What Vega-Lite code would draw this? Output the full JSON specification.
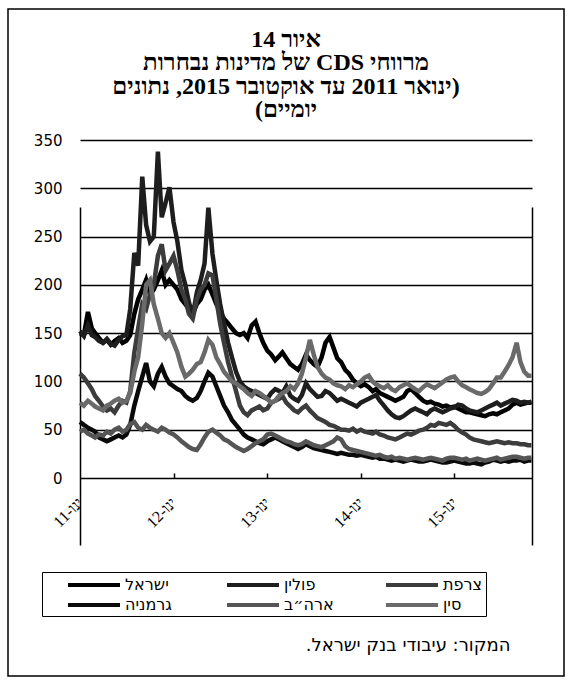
{
"$schema": "https://vega.github.io/schema/vega-lite/v6.json",
"width": 556, "height": 667,
"autosize": {"type": "none"},
"padding": {"left": 8, "top": 9, "right": 6, "bottom": 6},
"background": "white",
"title": {
 "text": ["\u202Bאיור 14\u202C", "\u202Bמרווחי CDS של מדינות נבחרות\u202C", "\u202B(ינואר 2011 עד  אוקטובר 2015, נתונים\u202C", "\u202Bיומיים)\u202C"],
 "anchor": "middle", "frame": "group", "orient": "top", "offset": -137, "baseline": "bottom",
 "font": "Liberation Serif", "fontSize": 24, "fontWeight": "bold", "color": "black", "lineHeight": 23.5
},
"data": {"values": [
{"date":"2011-01-01","country":"ישראל","cds":150},{"date":"2011-01-16","country":"ישראל","cds":148},{"date":"2011-02-01","country":"ישראל","cds":172},{"date":"2011-02-16","country":"ישראל","cds":155},{"date":"2011-03-01","country":"ישראל","cds":150},{"date":"2011-03-16","country":"ישראל","cds":145},{"date":"2011-04-01","country":"ישראל","cds":140},{"date":"2011-04-16","country":"ישראל","cds":143},{"date":"2011-05-01","country":"ישראל","cds":138},{"date":"2011-05-16","country":"ישראל","cds":142},{"date":"2011-06-01","country":"ישראל","cds":145},{"date":"2011-06-16","country":"ישראל","cds":140},{"date":"2011-07-01","country":"ישראל","cds":142},{"date":"2011-07-16","country":"ישראל","cds":148},{"date":"2011-08-01","country":"ישראל","cds":170},{"date":"2011-08-16","country":"ישראל","cds":185},{"date":"2011-09-01","country":"ישראל","cds":195},{"date":"2011-09-16","country":"ישראל","cds":205},{"date":"2011-10-01","country":"ישראל","cds":190},{"date":"2011-10-16","country":"ישראל","cds":195},{"date":"2011-11-01","country":"ישראל","cds":205},{"date":"2011-11-16","country":"ישראל","cds":215},{"date":"2011-12-01","country":"ישראל","cds":200},{"date":"2011-12-16","country":"ישראל","cds":205},
{"date":"2012-01-01","country":"ישראל","cds":200},{"date":"2012-01-16","country":"ישראל","cds":195},{"date":"2012-02-01","country":"ישראל","cds":185},{"date":"2012-02-16","country":"ישראל","cds":180},{"date":"2012-03-01","country":"ישראל","cds":175},{"date":"2012-03-16","country":"ישראל","cds":170},{"date":"2012-04-01","country":"ישראל","cds":180},{"date":"2012-04-16","country":"ישראל","cds":185},{"date":"2012-05-01","country":"ישראל","cds":195},{"date":"2012-05-16","country":"ישראל","cds":200},{"date":"2012-06-01","country":"ישראל","cds":190},{"date":"2012-06-16","country":"ישראל","cds":180},{"date":"2012-07-01","country":"ישראל","cds":172},{"date":"2012-07-16","country":"ישראל","cds":165},{"date":"2012-08-01","country":"ישראל","cds":160},{"date":"2012-08-16","country":"ישראל","cds":155},{"date":"2012-09-01","country":"ישראל","cds":150},{"date":"2012-09-16","country":"ישראל","cds":148},{"date":"2012-10-01","country":"ישראל","cds":150},{"date":"2012-10-16","country":"ישראל","cds":145},{"date":"2012-11-01","country":"ישראל","cds":158},{"date":"2012-11-16","country":"ישראל","cds":162},{"date":"2012-12-01","country":"ישראל","cds":150},{"date":"2012-12-16","country":"ישראל","cds":140},
{"date":"2013-01-01","country":"ישראל","cds":132},{"date":"2013-01-16","country":"ישראל","cds":128},{"date":"2013-02-01","country":"ישראל","cds":122},{"date":"2013-02-16","country":"ישראל","cds":126},{"date":"2013-03-01","country":"ישראל","cds":130},{"date":"2013-03-16","country":"ישראל","cds":124},{"date":"2013-04-01","country":"ישראל","cds":118},{"date":"2013-04-16","country":"ישראל","cds":115},{"date":"2013-05-01","country":"ישראל","cds":112},{"date":"2013-05-16","country":"ישראל","cds":118},{"date":"2013-06-01","country":"ישראל","cds":128},{"date":"2013-06-16","country":"ישראל","cds":122},{"date":"2013-07-01","country":"ישראל","cds":118},{"date":"2013-07-16","country":"ישראל","cds":115},{"date":"2013-08-01","country":"ישראל","cds":125},{"date":"2013-08-16","country":"ישראל","cds":140},{"date":"2013-09-01","country":"ישראל","cds":146},{"date":"2013-09-16","country":"ישראל","cds":135},{"date":"2013-10-01","country":"ישראל","cds":124},{"date":"2013-10-16","country":"ישראל","cds":120},{"date":"2013-11-01","country":"ישראל","cds":112},{"date":"2013-11-16","country":"ישראל","cds":108},{"date":"2013-12-01","country":"ישראל","cds":102},{"date":"2013-12-16","country":"ישראל","cds":98},
{"date":"2014-01-01","country":"ישראל","cds":95},{"date":"2014-01-16","country":"ישראל","cds":97},{"date":"2014-02-01","country":"ישראל","cds":94},{"date":"2014-02-16","country":"ישראל","cds":90},{"date":"2014-03-01","country":"ישראל","cds":92},{"date":"2014-03-16","country":"ישראל","cds":88},{"date":"2014-04-01","country":"ישראל","cds":86},{"date":"2014-04-16","country":"ישראל","cds":84},{"date":"2014-05-01","country":"ישראל","cds":82},{"date":"2014-05-16","country":"ישראל","cds":80},{"date":"2014-06-01","country":"ישראל","cds":82},{"date":"2014-06-16","country":"ישראל","cds":84},{"date":"2014-07-01","country":"ישראל","cds":90},{"date":"2014-07-16","country":"ישראל","cds":92},{"date":"2014-08-01","country":"ישראל","cds":88},{"date":"2014-08-16","country":"ישראל","cds":84},{"date":"2014-09-01","country":"ישראל","cds":80},{"date":"2014-09-16","country":"ישראל","cds":78},{"date":"2014-10-01","country":"ישראל","cds":79},{"date":"2014-10-16","country":"ישראל","cds":77},{"date":"2014-11-01","country":"ישראל","cds":76},{"date":"2014-11-16","country":"ישראל","cds":74},{"date":"2014-12-01","country":"ישראל","cds":75},{"date":"2014-12-16","country":"ישראל","cds":73},
{"date":"2015-01-01","country":"ישראל","cds":74},{"date":"2015-01-16","country":"ישראל","cds":72},{"date":"2015-02-01","country":"ישראל","cds":70},{"date":"2015-02-16","country":"ישראל","cds":68},{"date":"2015-03-01","country":"ישראל","cds":68},{"date":"2015-03-16","country":"ישראל","cds":67},{"date":"2015-04-01","country":"ישראל","cds":66},{"date":"2015-04-16","country":"ישראל","cds":65},{"date":"2015-05-01","country":"ישראל","cds":64},{"date":"2015-05-16","country":"ישראל","cds":66},{"date":"2015-06-01","country":"ישראל","cds":67},{"date":"2015-06-16","country":"ישראל","cds":66},{"date":"2015-07-01","country":"ישראל","cds":68},{"date":"2015-07-16","country":"ישראל","cds":70},{"date":"2015-08-01","country":"ישראל","cds":72},{"date":"2015-08-16","country":"ישראל","cds":76},{"date":"2015-09-01","country":"ישראל","cds":78},{"date":"2015-09-16","country":"ישראל","cds":76},{"date":"2015-10-01","country":"ישראל","cds":77},{"date":"2015-10-16","country":"ישראל","cds":78},{"date":"2015-10-29","country":"ישראל","cds":78},

{"date":"2011-01-01","country":"פולין","cds":152},{"date":"2011-01-16","country":"פולין","cds":147},{"date":"2011-02-01","country":"פולין","cds":158},{"date":"2011-02-16","country":"פולין","cds":148},{"date":"2011-03-01","country":"פולין","cds":146},{"date":"2011-03-16","country":"פולין","cds":142},{"date":"2011-04-01","country":"פולין","cds":140},{"date":"2011-04-16","country":"פולין","cds":144},{"date":"2011-05-01","country":"פולין","cds":139},{"date":"2011-05-16","country":"פולין","cds":137},{"date":"2011-06-01","country":"פולין","cds":143},{"date":"2011-06-16","country":"פולין","cds":147},{"date":"2011-07-01","country":"פולין","cds":148},{"date":"2011-07-16","country":"פולין","cds":175},{"date":"2011-08-01","country":"פולין","cds":233},{"date":"2011-08-16","country":"פולין","cds":220},{"date":"2011-09-01","country":"פולין","cds":312},{"date":"2011-09-16","country":"פולין","cds":262},{"date":"2011-10-01","country":"פולין","cds":245},{"date":"2011-10-16","country":"פולין","cds":250},{"date":"2011-11-01","country":"פולין","cds":338},{"date":"2011-11-16","country":"פולין","cds":270},{"date":"2011-12-01","country":"פולין","cds":285},{"date":"2011-12-16","country":"פולין","cds":301},
{"date":"2012-01-01","country":"פולין","cds":265},{"date":"2012-01-16","country":"פולין","cds":245},{"date":"2012-02-01","country":"פולין","cds":215},{"date":"2012-02-16","country":"פולין","cds":200},{"date":"2012-03-01","country":"פולין","cds":182},{"date":"2012-03-16","country":"פולין","cds":168},{"date":"2012-04-01","country":"פולין","cds":192},{"date":"2012-04-16","country":"פולין","cds":205},{"date":"2012-05-01","country":"פולין","cds":222},{"date":"2012-05-16","country":"פולין","cds":280},{"date":"2012-06-01","country":"פולין","cds":232},{"date":"2012-06-16","country":"פולין","cds":205},{"date":"2012-07-01","country":"פולין","cds":180},{"date":"2012-07-16","country":"פולין","cds":160},{"date":"2012-08-01","country":"פולין","cds":140},{"date":"2012-08-16","country":"פולין","cds":125},{"date":"2012-09-01","country":"פולין","cds":110},{"date":"2012-09-16","country":"פולין","cds":100},{"date":"2012-10-01","country":"פולין","cds":95},{"date":"2012-10-16","country":"פולין","cds":92},{"date":"2012-11-01","country":"פולין","cds":90},{"date":"2012-11-16","country":"פולין","cds":88},{"date":"2012-12-01","country":"פולין","cds":86},{"date":"2012-12-16","country":"פולין","cds":84},
{"date":"2013-01-01","country":"פולין","cds":82},{"date":"2013-01-16","country":"פולין","cds":88},{"date":"2013-02-01","country":"פולין","cds":92},{"date":"2013-02-16","country":"פולין","cds":90},{"date":"2013-03-01","country":"פולין","cds":88},{"date":"2013-03-16","country":"פולין","cds":95},{"date":"2013-04-01","country":"פולין","cds":85},{"date":"2013-04-16","country":"פולין","cds":82},{"date":"2013-05-01","country":"פולין","cds":80},{"date":"2013-05-16","country":"פולין","cds":86},{"date":"2013-06-01","country":"פולין","cds":98},{"date":"2013-06-16","country":"פולין","cds":92},{"date":"2013-07-01","country":"פולין","cds":88},{"date":"2013-07-16","country":"פולין","cds":84},{"date":"2013-08-01","country":"פולין","cds":85},{"date":"2013-08-16","country":"פולין","cds":90},{"date":"2013-09-01","country":"פולין","cds":88},{"date":"2013-09-16","country":"פולין","cds":84},{"date":"2013-10-01","country":"פולין","cds":80},{"date":"2013-10-16","country":"פולין","cds":82},{"date":"2013-11-01","country":"פולין","cds":80},{"date":"2013-11-16","country":"פולין","cds":78},{"date":"2013-12-01","country":"פולין","cds":76},{"date":"2013-12-16","country":"פולין","cds":74},
{"date":"2014-01-01","country":"פולין","cds":78},{"date":"2014-01-16","country":"פולין","cds":80},{"date":"2014-02-01","country":"פולין","cds":82},{"date":"2014-02-16","country":"פולין","cds":84},{"date":"2014-03-01","country":"פולין","cds":86},{"date":"2014-03-16","country":"פולין","cds":80},{"date":"2014-04-01","country":"פולין","cds":75},{"date":"2014-04-16","country":"פולין","cds":70},{"date":"2014-05-01","country":"פולין","cds":66},{"date":"2014-05-16","country":"פולין","cds":63},{"date":"2014-06-01","country":"פולין","cds":62},{"date":"2014-06-16","country":"פולין","cds":64},{"date":"2014-07-01","country":"פולין","cds":67},{"date":"2014-07-16","country":"פולין","cds":70},{"date":"2014-08-01","country":"פולין","cds":72},{"date":"2014-08-16","country":"פולין","cds":70},{"date":"2014-09-01","country":"פולין","cds":68},{"date":"2014-09-16","country":"פולין","cds":66},{"date":"2014-10-01","country":"פולין","cds":70},{"date":"2014-10-16","country":"פולין","cds":72},{"date":"2014-11-01","country":"פולין","cds":70},{"date":"2014-11-16","country":"פולין","cds":68},{"date":"2014-12-01","country":"פולין","cds":70},{"date":"2014-12-16","country":"פולין","cds":72},
{"date":"2015-01-01","country":"פולין","cds":73},{"date":"2015-01-16","country":"פולין","cds":76},{"date":"2015-02-01","country":"פולין","cds":75},{"date":"2015-02-16","country":"פולין","cds":72},{"date":"2015-03-01","country":"פולין","cds":70},{"date":"2015-03-16","country":"פולין","cds":69},{"date":"2015-04-01","country":"פולין","cds":68},{"date":"2015-04-16","country":"פולין","cds":70},{"date":"2015-05-01","country":"פולין","cds":72},{"date":"2015-05-16","country":"פולין","cds":74},{"date":"2015-06-01","country":"פולין","cds":76},{"date":"2015-06-16","country":"פולין","cds":78},{"date":"2015-07-01","country":"פולין","cds":75},{"date":"2015-07-16","country":"פולין","cds":77},{"date":"2015-08-01","country":"פולין","cds":79},{"date":"2015-08-16","country":"פולין","cds":81},{"date":"2015-09-01","country":"פולין","cds":80},{"date":"2015-09-16","country":"פולין","cds":78},{"date":"2015-10-01","country":"פולין","cds":79},{"date":"2015-10-16","country":"פולין","cds":78},{"date":"2015-10-29","country":"פולין","cds":79},

{"date":"2011-01-01","country":"צרפת","cds":108},{"date":"2011-01-16","country":"צרפת","cds":104},{"date":"2011-02-01","country":"צרפת","cds":98},{"date":"2011-02-16","country":"צרפת","cds":92},{"date":"2011-03-01","country":"צרפת","cds":85},{"date":"2011-03-16","country":"צרפת","cds":80},{"date":"2011-04-01","country":"צרפת","cds":74},{"date":"2011-04-16","country":"צרפת","cds":70},{"date":"2011-05-01","country":"צרפת","cds":72},{"date":"2011-05-16","country":"צרפת","cds":68},{"date":"2011-06-01","country":"צרפת","cds":75},{"date":"2011-06-16","country":"צרפת","cds":80},{"date":"2011-07-01","country":"צרפת","cds":78},{"date":"2011-07-16","country":"צרפת","cds":90},{"date":"2011-08-01","country":"צרפת","cds":130},{"date":"2011-08-16","country":"צרפת","cds":155},{"date":"2011-09-01","country":"צרפת","cds":180},{"date":"2011-09-16","country":"צרפת","cds":175},{"date":"2011-10-01","country":"צרפת","cds":190},{"date":"2011-10-16","country":"צרפת","cds":200},{"date":"2011-11-01","country":"צרפת","cds":230},{"date":"2011-11-16","country":"צרפת","cds":242},{"date":"2011-12-01","country":"צרפת","cds":215},{"date":"2011-12-16","country":"צרפת","cds":222},
{"date":"2012-01-01","country":"צרפת","cds":230},{"date":"2012-01-16","country":"צרפת","cds":215},{"date":"2012-02-01","country":"צרפת","cds":195},{"date":"2012-02-16","country":"צרפת","cds":185},{"date":"2012-03-01","country":"צרפת","cds":170},{"date":"2012-03-16","country":"צרפת","cds":165},{"date":"2012-04-01","country":"צרפת","cds":185},{"date":"2012-04-16","country":"צרפת","cds":195},{"date":"2012-05-01","country":"צרפת","cds":200},{"date":"2012-05-16","country":"צרפת","cds":212},{"date":"2012-06-01","country":"צרפת","cds":210},{"date":"2012-06-16","country":"צרפת","cds":185},{"date":"2012-07-01","country":"צרפת","cds":160},{"date":"2012-07-16","country":"צרפת","cds":140},{"date":"2012-08-01","country":"צרפת","cds":120},{"date":"2012-08-16","country":"צרפת","cds":105},{"date":"2012-09-01","country":"צרפת","cds":90},{"date":"2012-09-16","country":"צרפת","cds":75},{"date":"2012-10-01","country":"צרפת","cds":68},{"date":"2012-10-16","country":"צרפת","cds":65},{"date":"2012-11-01","country":"צרפת","cds":70},{"date":"2012-11-16","country":"צרפת","cds":72},{"date":"2012-12-01","country":"צרפת","cds":74},{"date":"2012-12-16","country":"צרפת","cds":70},
{"date":"2013-01-01","country":"צרפת","cds":72},{"date":"2013-01-16","country":"צרפת","cds":78},{"date":"2013-02-01","country":"צרפת","cds":80},{"date":"2013-02-16","country":"צרפת","cds":82},{"date":"2013-03-01","country":"צרפת","cds":85},{"date":"2013-03-16","country":"צרפת","cds":78},{"date":"2013-04-01","country":"צרפת","cds":74},{"date":"2013-04-16","country":"צרפת","cds":70},{"date":"2013-05-01","country":"צרפת","cds":68},{"date":"2013-05-16","country":"צרפת","cds":72},{"date":"2013-06-01","country":"צרפת","cds":75},{"date":"2013-06-16","country":"צרפת","cds":70},{"date":"2013-07-01","country":"צרפת","cds":66},{"date":"2013-07-16","country":"צרפת","cds":62},{"date":"2013-08-01","country":"צרפת","cds":60},{"date":"2013-08-16","country":"צרפת","cds":58},{"date":"2013-09-01","country":"צרפת","cds":55},{"date":"2013-09-16","country":"צרפת","cds":54},{"date":"2013-10-01","country":"צרפת","cds":52},{"date":"2013-10-16","country":"צרפת","cds":50},{"date":"2013-11-01","country":"צרפת","cds":50},{"date":"2013-11-16","country":"צרפת","cds":49},{"date":"2013-12-01","country":"צרפת","cds":51},{"date":"2013-12-16","country":"צרפת","cds":48},
{"date":"2014-01-01","country":"צרפת","cds":50},{"date":"2014-01-16","country":"צרפת","cds":48},{"date":"2014-02-01","country":"צרפת","cds":47},{"date":"2014-02-16","country":"צרפת","cds":46},{"date":"2014-03-01","country":"צרפת","cds":48},{"date":"2014-03-16","country":"צרפת","cds":45},{"date":"2014-04-01","country":"צרפת","cds":44},{"date":"2014-04-16","country":"צרפת","cds":42},{"date":"2014-05-01","country":"צרפת","cds":41},{"date":"2014-05-16","country":"צרפת","cds":40},{"date":"2014-06-01","country":"צרפת","cds":42},{"date":"2014-06-16","country":"צרפת","cds":44},{"date":"2014-07-01","country":"צרפת","cds":46},{"date":"2014-07-16","country":"צרפת","cds":45},{"date":"2014-08-01","country":"צרפת","cds":47},{"date":"2014-08-16","country":"צרפת","cds":49},{"date":"2014-09-01","country":"צרפת","cds":50},{"date":"2014-09-16","country":"צרפת","cds":52},{"date":"2014-10-01","country":"צרפת","cds":55},{"date":"2014-10-16","country":"צרפת","cds":54},{"date":"2014-11-01","country":"צרפת","cds":57},{"date":"2014-11-16","country":"צרפת","cds":56},{"date":"2014-12-01","country":"צרפת","cds":55},{"date":"2014-12-16","country":"צרפת","cds":57},
{"date":"2015-01-01","country":"צרפת","cds":54},{"date":"2015-01-16","country":"צרפת","cds":50},{"date":"2015-02-01","country":"צרפת","cds":47},{"date":"2015-02-16","country":"צרפת","cds":45},{"date":"2015-03-01","country":"צרפת","cds":42},{"date":"2015-03-16","country":"צרפת","cds":40},{"date":"2015-04-01","country":"צרפת","cds":39},{"date":"2015-04-16","country":"צרפת","cds":38},{"date":"2015-05-01","country":"צרפת","cds":37},{"date":"2015-05-16","country":"צרפת","cds":36},{"date":"2015-06-01","country":"צרפת","cds":37},{"date":"2015-06-16","country":"צרפת","cds":38},{"date":"2015-07-01","country":"צרפת","cds":37},{"date":"2015-07-16","country":"צרפת","cds":36},{"date":"2015-08-01","country":"צרפת","cds":37},{"date":"2015-08-16","country":"צרפת","cds":36},{"date":"2015-09-01","country":"צרפת","cds":36},{"date":"2015-09-16","country":"צרפת","cds":35},{"date":"2015-10-01","country":"צרפת","cds":35},{"date":"2015-10-16","country":"צרפת","cds":34},{"date":"2015-10-29","country":"צרפת","cds":34},

{"date":"2011-01-01","country":"גרמניה","cds":58},{"date":"2011-01-16","country":"גרמניה","cds":55},{"date":"2011-02-01","country":"גרמניה","cds":52},{"date":"2011-02-16","country":"גרמניה","cds":50},{"date":"2011-03-01","country":"גרמניה","cds":48},{"date":"2011-03-16","country":"גרמניה","cds":42},{"date":"2011-04-01","country":"גרמניה","cds":40},{"date":"2011-04-16","country":"גרמניה","cds":38},{"date":"2011-05-01","country":"גרמניה","cds":40},{"date":"2011-05-16","country":"גרמניה","cds":42},{"date":"2011-06-01","country":"גרמניה","cds":44},{"date":"2011-06-16","country":"גרמניה","cds":42},{"date":"2011-07-01","country":"גרמניה","cds":45},{"date":"2011-07-16","country":"גרמניה","cds":55},{"date":"2011-08-01","country":"גרמניה","cds":75},{"date":"2011-08-16","country":"גרמניה","cds":90},{"date":"2011-09-01","country":"גרמניה","cds":105},{"date":"2011-09-16","country":"גרמניה","cds":119},{"date":"2011-10-01","country":"גרמניה","cds":100},{"date":"2011-10-16","country":"גרמניה","cds":95},{"date":"2011-11-01","country":"גרמניה","cds":108},{"date":"2011-11-16","country":"גרמניה","cds":115},{"date":"2011-12-01","country":"גרמניה","cds":105},{"date":"2011-12-16","country":"גרמניה","cds":98},
{"date":"2012-01-01","country":"גרמניה","cds":95},{"date":"2012-01-16","country":"גרמניה","cds":92},{"date":"2012-02-01","country":"גרמניה","cds":90},{"date":"2012-02-16","country":"גרמניה","cds":85},{"date":"2012-03-01","country":"גרמניה","cds":82},{"date":"2012-03-16","country":"גרמניה","cds":80},{"date":"2012-04-01","country":"גרמניה","cds":83},{"date":"2012-04-16","country":"גרמניה","cds":90},{"date":"2012-05-01","country":"גרמניה","cds":100},{"date":"2012-05-16","country":"גרמניה","cds":109},{"date":"2012-06-01","country":"גרמניה","cds":105},{"date":"2012-06-16","country":"גרמניה","cds":95},{"date":"2012-07-01","country":"גרמניה","cds":85},{"date":"2012-07-16","country":"גרמניה","cds":75},{"date":"2012-08-01","country":"גרמניה","cds":68},{"date":"2012-08-16","country":"גרמניה","cds":60},{"date":"2012-09-01","country":"גרמניה","cds":55},{"date":"2012-09-16","country":"גרמניה","cds":50},{"date":"2012-10-01","country":"גרמניה","cds":45},{"date":"2012-10-16","country":"גרמניה","cds":42},{"date":"2012-11-01","country":"גרמניה","cds":40},{"date":"2012-11-16","country":"גרמניה","cds":38},{"date":"2012-12-01","country":"גרמניה","cds":36},{"date":"2012-12-16","country":"גרמניה","cds":35},
{"date":"2013-01-01","country":"גרמניה","cds":38},{"date":"2013-01-16","country":"גרמניה","cds":40},{"date":"2013-02-01","country":"גרמניה","cds":42},{"date":"2013-02-16","country":"גרמניה","cds":40},{"date":"2013-03-01","country":"גרמניה","cds":38},{"date":"2013-03-16","country":"גרמניה","cds":36},{"date":"2013-04-01","country":"גרמניה","cds":34},{"date":"2013-04-16","country":"גרמניה","cds":32},{"date":"2013-05-01","country":"גרמניה","cds":30},{"date":"2013-05-16","country":"גרמניה","cds":32},{"date":"2013-06-01","country":"גרמניה","cds":35},{"date":"2013-06-16","country":"גרמניה","cds":33},{"date":"2013-07-01","country":"גרמניה","cds":31},{"date":"2013-07-16","country":"גרמניה","cds":30},{"date":"2013-08-01","country":"גרמניה","cds":29},{"date":"2013-08-16","country":"גרמניה","cds":28},{"date":"2013-09-01","country":"גרמניה","cds":27},{"date":"2013-09-16","country":"גרמניה","cds":26},{"date":"2013-10-01","country":"גרמניה","cds":25},{"date":"2013-10-16","country":"גרמניה","cds":26},{"date":"2013-11-01","country":"גרמניה","cds":25},{"date":"2013-11-16","country":"גרמניה","cds":24},{"date":"2013-12-01","country":"גרמניה","cds":24},{"date":"2013-12-16","country":"גרמניה","cds":23},
{"date":"2014-01-01","country":"גרמניה","cds":24},{"date":"2014-01-16","country":"גרמניה","cds":23},{"date":"2014-02-01","country":"גרמניה","cds":22},{"date":"2014-02-16","country":"גרמניה","cds":21},{"date":"2014-03-01","country":"גרמניה","cds":22},{"date":"2014-03-16","country":"גרמניה","cds":20},{"date":"2014-04-01","country":"גרמניה","cds":20},{"date":"2014-04-16","country":"גרמניה","cds":19},{"date":"2014-05-01","country":"גרמניה","cds":18},{"date":"2014-05-16","country":"גרמניה","cds":19},{"date":"2014-06-01","country":"גרמניה","cds":18},{"date":"2014-06-16","country":"גרמניה","cds":17},{"date":"2014-07-01","country":"גרמניה","cds":18},{"date":"2014-07-16","country":"גרמניה","cds":19},{"date":"2014-08-01","country":"גרמניה","cds":18},{"date":"2014-08-16","country":"גרמניה","cds":17},{"date":"2014-09-01","country":"גרמניה","cds":17},{"date":"2014-09-16","country":"גרמניה","cds":18},{"date":"2014-10-01","country":"גרמניה","cds":19},{"date":"2014-10-16","country":"גרמניה","cds":18},{"date":"2014-11-01","country":"גרמניה","cds":17},{"date":"2014-11-16","country":"גרמניה","cds":16},{"date":"2014-12-01","country":"גרמניה","cds":16},{"date":"2014-12-16","country":"גרמניה","cds":17},
{"date":"2015-01-01","country":"גרמניה","cds":18},{"date":"2015-01-16","country":"גרמניה","cds":17},{"date":"2015-02-01","country":"גרמניה","cds":16},{"date":"2015-02-16","country":"גרמניה","cds":15},{"date":"2015-03-01","country":"גרמניה","cds":15},{"date":"2015-03-16","country":"גרמניה","cds":16},{"date":"2015-04-01","country":"גרמניה","cds":15},{"date":"2015-04-16","country":"גרמניה","cds":14},{"date":"2015-05-01","country":"גרמניה","cds":16},{"date":"2015-05-16","country":"גרמניה","cds":17},{"date":"2015-06-01","country":"גרמניה","cds":19},{"date":"2015-06-16","country":"גרמניה","cds":18},{"date":"2015-07-01","country":"גרמניה","cds":17},{"date":"2015-07-16","country":"גרמניה","cds":18},{"date":"2015-08-01","country":"גרמניה","cds":17},{"date":"2015-08-16","country":"גרמניה","cds":18},{"date":"2015-09-01","country":"גרמניה","cds":18},{"date":"2015-09-16","country":"גרמניה","cds":19},{"date":"2015-10-01","country":"גרמניה","cds":17},{"date":"2015-10-16","country":"גרמניה","cds":18},{"date":"2015-10-29","country":"גרמניה","cds":18},

{"date":"2011-01-01","country":"ארה״ב","cds":48},{"date":"2011-01-16","country":"ארה״ב","cds":50},{"date":"2011-02-01","country":"ארה״ב","cds":46},{"date":"2011-02-16","country":"ארה״ב","cds":44},{"date":"2011-03-01","country":"ארה״ב","cds":42},{"date":"2011-03-16","country":"ארה״ב","cds":45},{"date":"2011-04-01","country":"ארה״ב","cds":44},{"date":"2011-04-16","country":"ארה״ב","cds":48},{"date":"2011-05-01","country":"ארה״ב","cds":46},{"date":"2011-05-16","country":"ארה״ב","cds":50},{"date":"2011-06-01","country":"ארה״ב","cds":52},{"date":"2011-06-16","country":"ארה״ב","cds":48},{"date":"2011-07-01","country":"ארה״ב","cds":50},{"date":"2011-07-16","country":"ארה״ב","cds":56},{"date":"2011-08-01","country":"ארה״ב","cds":58},{"date":"2011-08-16","country":"ארה״ב","cds":52},{"date":"2011-09-01","country":"ארה״ב","cds":50},{"date":"2011-09-16","country":"ארה״ב","cds":55},{"date":"2011-10-01","country":"ארה״ב","cds":52},{"date":"2011-10-16","country":"ארה״ב","cds":50},{"date":"2011-11-01","country":"ארה״ב","cds":48},{"date":"2011-11-16","country":"ארה״ב","cds":52},{"date":"2011-12-01","country":"ארה״ב","cds":50},{"date":"2011-12-16","country":"ארה״ב","cds":47},
{"date":"2012-01-01","country":"ארה״ב","cds":45},{"date":"2012-01-16","country":"ארה״ב","cds":42},{"date":"2012-02-01","country":"ארה״ב","cds":38},{"date":"2012-02-16","country":"ארה״ב","cds":35},{"date":"2012-03-01","country":"ארה״ב","cds":32},{"date":"2012-03-16","country":"ארה״ב","cds":30},{"date":"2012-04-01","country":"ארה״ב","cds":29},{"date":"2012-04-16","country":"ארה״ב","cds":35},{"date":"2012-05-01","country":"ארה״ב","cds":42},{"date":"2012-05-16","country":"ארה״ב","cds":48},{"date":"2012-06-01","country":"ארה״ב","cds":50},{"date":"2012-06-16","country":"ארה״ב","cds":47},{"date":"2012-07-01","country":"ארה״ב","cds":44},{"date":"2012-07-16","country":"ארה״ב","cds":40},{"date":"2012-08-01","country":"ארה״ב","cds":38},{"date":"2012-08-16","country":"ארה״ב","cds":35},{"date":"2012-09-01","country":"ארה״ב","cds":32},{"date":"2012-09-16","country":"ארה״ב","cds":30},{"date":"2012-10-01","country":"ארה״ב","cds":28},{"date":"2012-10-16","country":"ארה״ב","cds":30},{"date":"2012-11-01","country":"ארה״ב","cds":33},{"date":"2012-11-16","country":"ארה״ב","cds":36},{"date":"2012-12-01","country":"ארה״ב","cds":38},{"date":"2012-12-16","country":"ארה״ב","cds":40},
{"date":"2013-01-01","country":"ארה״ב","cds":45},{"date":"2013-01-16","country":"ארה״ב","cds":46},{"date":"2013-02-01","country":"ארה״ב","cds":44},{"date":"2013-02-16","country":"ארה״ב","cds":42},{"date":"2013-03-01","country":"ארה״ב","cds":40},{"date":"2013-03-16","country":"ארה״ב","cds":38},{"date":"2013-04-01","country":"ארה״ב","cds":37},{"date":"2013-04-16","country":"ארה״ב","cds":35},{"date":"2013-05-01","country":"ארה״ב","cds":34},{"date":"2013-05-16","country":"ארה״ב","cds":35},{"date":"2013-06-01","country":"ארה״ב","cds":38},{"date":"2013-06-16","country":"ארה״ב","cds":36},{"date":"2013-07-01","country":"ארה״ב","cds":34},{"date":"2013-07-16","country":"ארה״ב","cds":33},{"date":"2013-08-01","country":"ארה״ב","cds":32},{"date":"2013-08-16","country":"ארה״ב","cds":34},{"date":"2013-09-01","country":"ארה״ב","cds":36},{"date":"2013-09-16","country":"ארה״ב","cds":38},{"date":"2013-10-01","country":"ארה״ב","cds":42},{"date":"2013-10-16","country":"ארה״ב","cds":40},{"date":"2013-11-01","country":"ארה״ב","cds":33},{"date":"2013-11-16","country":"ארה״ב","cds":30},{"date":"2013-12-01","country":"ארה״ב","cds":29},{"date":"2013-12-16","country":"ארה״ב","cds":28},
{"date":"2014-01-01","country":"ארה״ב","cds":27},{"date":"2014-01-16","country":"ארה״ב","cds":26},{"date":"2014-02-01","country":"ארה״ב","cds":25},{"date":"2014-02-16","country":"ארה״ב","cds":24},{"date":"2014-03-01","country":"ארה״ב","cds":23},{"date":"2014-03-16","country":"ארה״ב","cds":24},{"date":"2014-04-01","country":"ארה״ב","cds":22},{"date":"2014-04-16","country":"ארה״ב","cds":21},{"date":"2014-05-01","country":"ארה״ב","cds":22},{"date":"2014-05-16","country":"ארה״ב","cds":20},{"date":"2014-06-01","country":"ארה״ב","cds":21},{"date":"2014-06-16","country":"ארה״ב","cds":20},{"date":"2014-07-01","country":"ארה״ב","cds":19},{"date":"2014-07-16","country":"ארה״ב","cds":20},{"date":"2014-08-01","country":"ארה״ב","cds":21},{"date":"2014-08-16","country":"ארה״ב","cds":20},{"date":"2014-09-01","country":"ארה״ב","cds":19},{"date":"2014-09-16","country":"ארה״ב","cds":20},{"date":"2014-10-01","country":"ארה״ב","cds":21},{"date":"2014-10-16","country":"ארה״ב","cds":20},{"date":"2014-11-01","country":"ארה״ב","cds":19},{"date":"2014-11-16","country":"ארה״ב","cds":18},{"date":"2014-12-01","country":"ארה״ב","cds":20},{"date":"2014-12-16","country":"ארה״ב","cds":21},
{"date":"2015-01-01","country":"ארה״ב","cds":21},{"date":"2015-01-16","country":"ארה״ב","cds":20},{"date":"2015-02-01","country":"ארה״ב","cds":19},{"date":"2015-02-16","country":"ארה״ב","cds":20},{"date":"2015-03-01","country":"ארה״ב","cds":18},{"date":"2015-03-16","country":"ארה״ב","cds":19},{"date":"2015-04-01","country":"ארה״ב","cds":20},{"date":"2015-04-16","country":"ארה״ב","cds":19},{"date":"2015-05-01","country":"ארה״ב","cds":18},{"date":"2015-05-16","country":"ארה״ב","cds":19},{"date":"2015-06-01","country":"ארה״ב","cds":20},{"date":"2015-06-16","country":"ארה״ב","cds":21},{"date":"2015-07-01","country":"ארה״ב","cds":19},{"date":"2015-07-16","country":"ארה״ב","cds":20},{"date":"2015-08-01","country":"ארה״ב","cds":21},{"date":"2015-08-16","country":"ארה״ב","cds":22},{"date":"2015-09-01","country":"ארה״ב","cds":22},{"date":"2015-09-16","country":"ארה״ב","cds":21},{"date":"2015-10-01","country":"ארה״ב","cds":20},{"date":"2015-10-16","country":"ארה״ב","cds":21},{"date":"2015-10-29","country":"ארה״ב","cds":21},

{"date":"2011-01-01","country":"סין","cds":78},{"date":"2011-01-16","country":"סין","cds":75},{"date":"2011-02-01","country":"סין","cds":80},{"date":"2011-02-16","country":"סין","cds":77},{"date":"2011-03-01","country":"סין","cds":74},{"date":"2011-03-16","country":"סין","cds":72},{"date":"2011-04-01","country":"סין","cds":70},{"date":"2011-04-16","country":"סין","cds":75},{"date":"2011-05-01","country":"סין","cds":77},{"date":"2011-05-16","country":"סין","cds":80},{"date":"2011-06-01","country":"סין","cds":82},{"date":"2011-06-16","country":"סין","cds":78},{"date":"2011-07-01","country":"סין","cds":80},{"date":"2011-07-16","country":"סין","cds":88},{"date":"2011-08-01","country":"סין","cds":110},{"date":"2011-08-16","country":"סין","cds":125},{"date":"2011-09-01","country":"סין","cds":160},{"date":"2011-09-16","country":"סין","cds":200},{"date":"2011-10-01","country":"סין","cds":205},{"date":"2011-10-16","country":"סין","cds":180},{"date":"2011-11-01","country":"סין","cds":165},{"date":"2011-11-16","country":"סין","cds":150},{"date":"2011-12-01","country":"סין","cds":145},{"date":"2011-12-16","country":"סין","cds":150},
{"date":"2012-01-01","country":"סין","cds":140},{"date":"2012-01-16","country":"סין","cds":130},{"date":"2012-02-01","country":"סין","cds":115},{"date":"2012-02-16","country":"סין","cds":105},{"date":"2012-03-01","country":"סין","cds":108},{"date":"2012-03-16","country":"סין","cds":112},{"date":"2012-04-01","country":"סין","cds":118},{"date":"2012-04-16","country":"סין","cds":120},{"date":"2012-05-01","country":"סין","cds":130},{"date":"2012-05-16","country":"סין","cds":143},{"date":"2012-06-01","country":"סין","cds":138},{"date":"2012-06-16","country":"סין","cds":125},{"date":"2012-07-01","country":"סין","cds":118},{"date":"2012-07-16","country":"סין","cds":110},{"date":"2012-08-01","country":"סין","cds":105},{"date":"2012-08-16","country":"סין","cds":100},{"date":"2012-09-01","country":"סין","cds":98},{"date":"2012-09-16","country":"סין","cds":95},{"date":"2012-10-01","country":"סין","cds":92},{"date":"2012-10-16","country":"סין","cds":88},{"date":"2012-11-01","country":"סין","cds":85},{"date":"2012-11-16","country":"סין","cds":90},{"date":"2012-12-01","country":"סין","cds":88},{"date":"2012-12-16","country":"סין","cds":85},
{"date":"2013-01-01","country":"סין","cds":82},{"date":"2013-01-16","country":"סין","cds":78},{"date":"2013-02-01","country":"סין","cds":80},{"date":"2013-02-16","country":"סין","cds":85},{"date":"2013-03-01","country":"סין","cds":88},{"date":"2013-03-16","country":"סין","cds":90},{"date":"2013-04-01","country":"סין","cds":95},{"date":"2013-04-16","country":"סין","cds":92},{"date":"2013-05-01","country":"סין","cds":98},{"date":"2013-05-16","country":"סין","cds":108},{"date":"2013-06-01","country":"סין","cds":125},{"date":"2013-06-16","country":"סין","cds":143},{"date":"2013-07-01","country":"סין","cds":128},{"date":"2013-07-16","country":"סין","cds":115},{"date":"2013-08-01","country":"סין","cds":108},{"date":"2013-08-16","country":"סין","cds":104},{"date":"2013-09-01","country":"סין","cds":102},{"date":"2013-09-16","country":"סין","cds":98},{"date":"2013-10-01","country":"סין","cds":96},{"date":"2013-10-16","country":"סין","cds":95},{"date":"2013-11-01","country":"סין","cds":92},{"date":"2013-11-16","country":"סין","cds":96},{"date":"2013-12-01","country":"סין","cds":94},{"date":"2013-12-16","country":"סין","cds":97},
{"date":"2014-01-01","country":"סין","cds":100},{"date":"2014-01-16","country":"סין","cds":104},{"date":"2014-02-01","country":"סין","cds":106},{"date":"2014-02-16","country":"סין","cds":100},{"date":"2014-03-01","country":"סין","cds":97},{"date":"2014-03-16","country":"סין","cds":95},{"date":"2014-04-01","country":"סין","cds":93},{"date":"2014-04-16","country":"סין","cds":96},{"date":"2014-05-01","country":"סין","cds":92},{"date":"2014-05-16","country":"סין","cds":90},{"date":"2014-06-01","country":"סין","cds":94},{"date":"2014-06-16","country":"סין","cds":96},{"date":"2014-07-01","country":"סין","cds":98},{"date":"2014-07-16","country":"סין","cds":95},{"date":"2014-08-01","country":"סין","cds":92},{"date":"2014-08-16","country":"סין","cds":90},{"date":"2014-09-01","country":"סין","cds":94},{"date":"2014-09-16","country":"סין","cds":97},{"date":"2014-10-01","country":"סין","cds":95},{"date":"2014-10-16","country":"סין","cds":93},{"date":"2014-11-01","country":"סין","cds":96},{"date":"2014-11-16","country":"סין","cds":99},{"date":"2014-12-01","country":"סין","cds":102},{"date":"2014-12-16","country":"סין","cds":104},
{"date":"2015-01-01","country":"סין","cds":105},{"date":"2015-01-16","country":"סין","cds":100},{"date":"2015-02-01","country":"סין","cds":96},{"date":"2015-02-16","country":"סין","cds":94},{"date":"2015-03-01","country":"סין","cds":92},{"date":"2015-03-16","country":"סין","cds":90},{"date":"2015-04-01","country":"סין","cds":88},{"date":"2015-04-16","country":"סין","cds":87},{"date":"2015-05-01","country":"סין","cds":89},{"date":"2015-05-16","country":"סין","cds":92},{"date":"2015-06-01","country":"סין","cds":98},{"date":"2015-06-16","country":"סין","cds":104},{"date":"2015-07-01","country":"סין","cds":104},{"date":"2015-07-16","country":"סין","cds":110},{"date":"2015-08-01","country":"סין","cds":117},{"date":"2015-08-16","country":"סין","cds":125},{"date":"2015-09-01","country":"סין","cds":140},{"date":"2015-09-16","country":"סין","cds":120},{"date":"2015-10-01","country":"סין","cds":110},{"date":"2015-10-16","country":"סין","cds":106},{"date":"2015-10-29","country":"סין","cds":106}
]},
"mark": {"type": "line", "strokeWidth": 4.5, "interpolate": "linear"},
"encoding": {
 "x": {"field": "date", "type": "temporal",
  "scale": {"domain": [{"year": 2011, "month": 1, "date": 1}, {"year": 2015, "month": 10, "date": 31}], "range": [72, 524], "nice": false},
  "axis": {
   "values": [{"year": 2011, "month": 1, "date": 1}, {"year": 2012, "month": 1, "date": 1}, {"year": 2013, "month": 1, "date": 1}, {"year": 2014, "month": 1, "date": 1}, {"year": 2015, "month": 1, "date": 1}, {"year": 2015, "month": 10, "date": 31}],
   "offset": -198, "domain": false,
   "grid": true, "gridColor": "black", "gridWidth": 1.5,
   "gridOpacity": {"condition": {"test": "year(datum.value) < 2012 || month(datum.value) > 7", "value": 1}, "value": 0},
   "ticks": true, "tickSize": -5, "tickColor": "black", "tickWidth": 1.5,
   "tickOpacity": {"condition": {"test": "year(datum.value) > 2011 && month(datum.value) == 0", "value": 1}, "value": 0},
   "labelExpr": "month(datum.value) == 0 ? timeFormat(datum.value, '%y') + '-ינו' : ''",
   "labelAngle": -45, "labelAlign": "right", "labelBaseline": "middle", "labelPadding": 27,
   "labelFont": "Liberation Serif", "labelFontSize": 16, "labelColor": "black",
   "labelOverlap": false, "labelBound": false, "labelFlush": false,
   "title": "\u202Bהמקור: עיבודי בנק ישראל.\u202C",
   "titleX": 502, "titleY": 167, "titleAlign": "right", "titleBaseline": "middle", "titleAngle": 0,
   "titleFont": "DejaVu Sans", "titleFontSize": 18, "titleFontWeight": "normal", "titleColor": "black"
  }},
 "y": {"field": "cds", "type": "quantitative",
  "scale": {"domain": [0, 350], "range": [469, 131], "nice": false, "zero": true},
  "axis": {"values": [0, 50, 100, 150, 200, 250, 300, 350], "offset": -72, "domain": false, "ticks": false,
   "grid": true, "gridColor": "black", "gridWidth": 1.5,
   "labelFont": "DejaVu Sans", "labelFontSize": 15, "labelColor": "black", "labelPadding": 18, "title": null}},
 "color": {"field": "country", "type": "nominal",
  "scale": {"domain": ["ישראל", "פולין", "צרפת", "גרמניה", "ארה״ב", "סין"], "range": ["#000000", "#1e1e1e", "#3c3c3c", "#0a0a0a", "#555555", "#6a6a6a"]},
  "legend": {"orient": "none", "legendX": 34, "legendY": 563, "direction": "horizontal", "columns": 3, "gridAlign": "all",
   "columnPadding": 44, "rowPadding": 2, "padding": 3, "strokeColor": "black",
   "title": "\u00A0", "titleOrient": "left", "titlePadding": 49, "titleFontSize": 8,
   "symbolType": "M-4.5,0H2", "symbolSize": 256, "symbolStrokeWidth": 4,
   "labelFont": "DejaVu Sans", "labelFontSize": 16, "labelColor": "black", "labelOffset": 11, "labelLimit": 0}}
},
"config": {"view": {"stroke": "black", "strokeWidth": 1.5}}
}
